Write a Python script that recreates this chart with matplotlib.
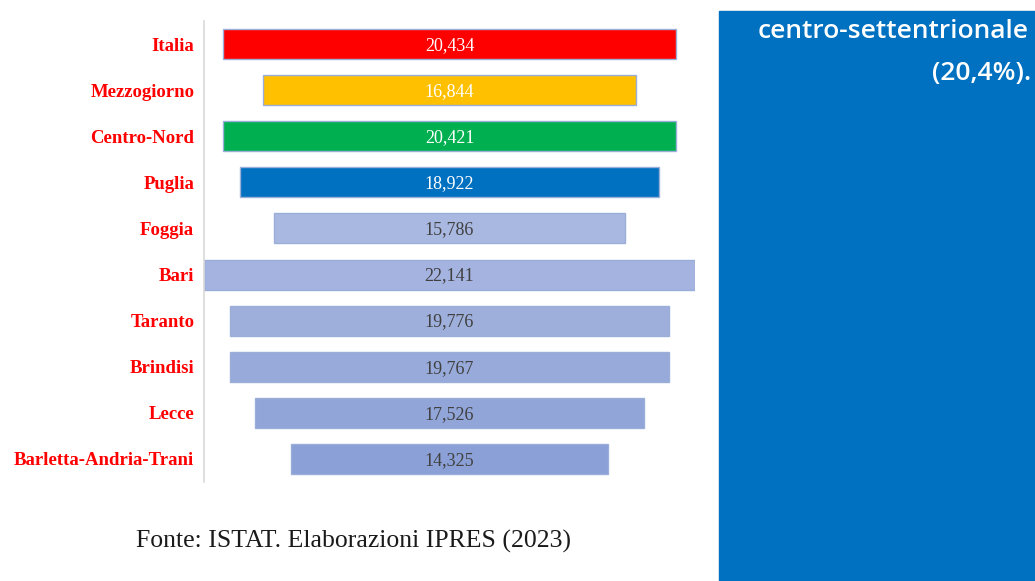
import matplotlib.pyplot as plt
from matplotlib.patches import Rectangle

# data
labels = ["Italia", "Mezzogiorno", "Centro-Nord", "Puglia", "Foggia",
          "Bari", "Taranto", "Brindisi", "Lecce", "Barletta-Andria-Trani"]
values = [20.434, 16.844, 20.421, 18.922, 15.786,
          22.141, 19.776, 19.767, 17.526, 14.325]
value_text = ["20,434", "16,844", "20,421", "18,922", "15,786",
              "22,141", "19,776", "19,767", "17,526", "14,325"]
bar_colors = ["#FF0000", "#FFC000", "#00B050", "#0070C0", "#A9B8E1",
              "#A4B3DF", "#9EAFDC", "#98AADA", "#91A5D8", "#8BA0D6"]
text_colors = ["white"] * 4 + ["#404040"] * 6
source = "Fonte: ISTAT. Elaborazioni IPRES (2023)"
panel_lines = ["centro-settentrionale", "(20,4%)."]

W, H = 1035, 581
fig = plt.figure(figsize=(W / 100, H / 100), dpi=100)
fig.patch.set_facecolor("white")

# axes in pixel coordinates: x 204..695, y 21..482
ax = fig.add_axes([204 / W, 1 - 482 / H, (695 - 204) / W, (482 - 21) / H])
half = 11.07
ax.set_xlim(-half, half)
ax.set_ylim(len(values) - 0.5, -0.5)

for i, v in enumerate(values):
    ax.barh(i, v, left=-v / 2, height=0.65, color=bar_colors[i],
            edgecolor="#9AAED8", linewidth=1)
    ax.text(0, i + 0.03, value_text[i], ha="center", va="center",
            fontsize=13, family="Liberation Serif", color=text_colors[i])

ax.set_yticks(range(len(labels)))
ax.set_yticklabels(labels, fontsize=13.5, family="Liberation Serif",
                   fontweight="bold", color="#FF0000")
ax.tick_params(axis="y", length=0, pad=7)
ax.set_xticks([])
for s in ["top", "right", "bottom"]:
    ax.spines[s].set_visible(False)
ax.spines["left"].set_color("#D9D9D9")
ax.spines["left"].set_linewidth(1.2)
ax.set_facecolor("none")

fig.text(353 / W, 1 - 541 / H, source, ha="center", va="center",
         fontsize=18.5, family="Liberation Serif", color="#1a1a1a")

# blue text panel on the right
fig.patches.append(Rectangle((719 / W, 0), (W - 719) / W, 1 - 11 / H,
                             transform=fig.transFigure, color="#0070C0",
                             zorder=0))
fig.text(1029 / W, 1 - 32 / H, panel_lines[0], ha="right", va="center",
         fontsize=19, family="Open Sans", fontweight="semibold",
         color="white")
fig.text(1031 / W, 1 - 73 / H, panel_lines[1], ha="right", va="center",
         fontsize=19, family="Open Sans", fontweight="semibold",
         color="white")

fig.savefig("out.png", dpi=100)
